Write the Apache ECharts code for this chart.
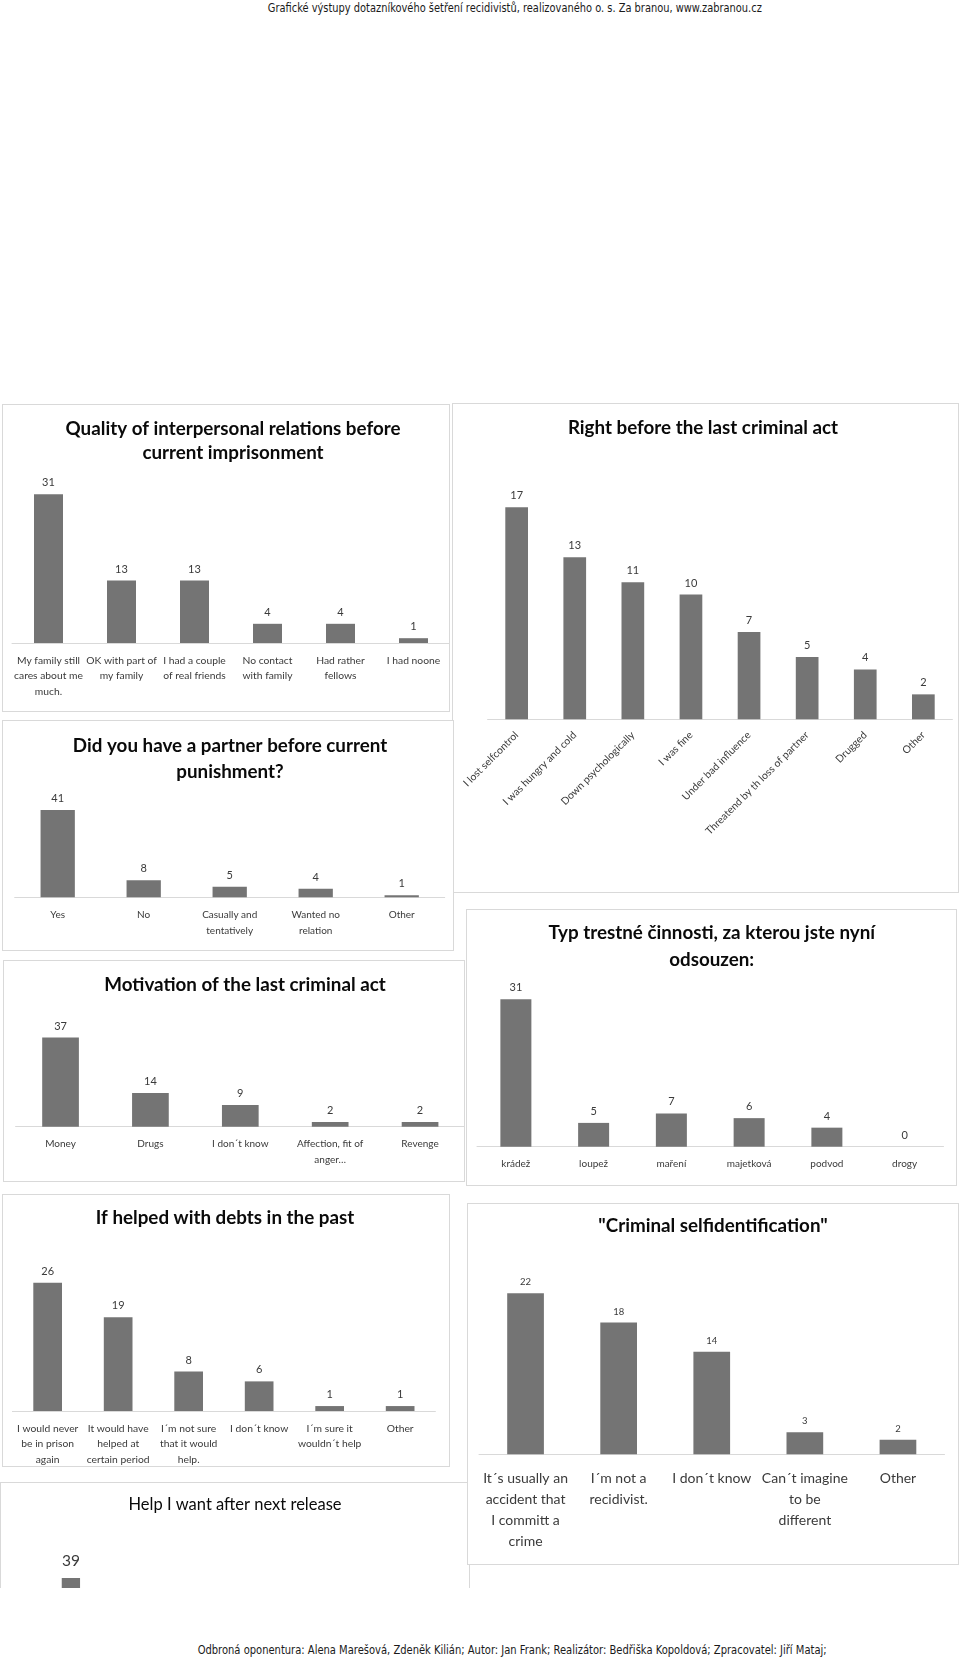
<!DOCTYPE html>
<html><head><meta charset="utf-8">
<script src="https://cdn.jsdelivr.net/npm/echarts@6/dist/echarts.min.js"></script>
<style>
body{margin:0;width:960px;height:1660px;position:relative;background:#fff;overflow:hidden}
.p{position:absolute;box-sizing:border-box;border:1px solid #d9d9d9;background:#fff;overflow:hidden}
.c{position:absolute;left:-1px;top:-1px}
.t{position:absolute;white-space:nowrap;font-family:"Liberation Sans Narrow","DejaVu Sans Condensed",Lato,sans-serif;font-size:12.5px;color:#1a1a1a;transform-origin:center center}
</style></head>
<body>
<div class="t" id="hdr">Grafické výstupy dotazníkového šetření recidivistů, realizovaného o. s. Za branou, www.zabranou.cz</div>
<div class="t" id="ftr">Odbroná oponentura: Alena Marešová, Zdeněk Kilián; Autor: Jan Frank; Realizátor: Bedřiška Kopoldová; Zpracovatel: Jiří Mataj;</div>
<script>
// ---- data ----
const relTitle = "Quality of interpersonal relations before\ncurrent imprisonment";
const relCategories = ["My family still\ncares about me\nmuch.", "OK with part of\nmy family", "I had a couple\nof real friends", "No contact\nwith family", "Had rather\nfellows", "I had noone"];
const relValues = [31, 13, 13, 4, 4, 1];

const beforeTitle = "Right before the last criminal act";
const beforeCategories = ["I lost selfcontrol", "I was hungry and cold", "Down psychologically", "I was fine", "Under bad influence", "Threatend by th loss of partner", "Drugged", "Other"];
const beforeValues = [17, 13, 11, 10, 7, 5, 4, 2];

const partnerTitle = "Did you have a partner before current\npunishment?";
const partnerCategories = ["Yes", "No", "Casually and\ntentatively", "Wanted no\nrelation", "Other"];
const partnerValues = [41, 8, 5, 4, 1];

const motivTitle = "Motivation of the last criminal act";
const motivCategories = ["Money", "Drugs", "I don´t know", "Affection, fit of\nanger…", "Revenge"];
const motivValues = [37, 14, 9, 2, 2];

const crimeTitle = "Typ trestné činnosti, za kterou jste nyní\nodsouzen:";
const crimeCategories = ["krádež", "loupež", "maření", "majetková", "podvod", "drogy"];
const crimeValues = [31, 5, 7, 6, 4, 0];

const debtTitle = "If helped with debts in the past";
const debtCategories = ["I would never\nbe in prison\nagain", "It would have\nhelped at\ncertain period", "I´m not sure\nthat it would\nhelp.", "I don´t know", "I´m sure it\nwouldn´t help", "Other"];
const debtValues = [26, 19, 8, 6, 1, 1];

const selfTitle = "\"Criminal selfidentification\"";
const selfCategories = ["It´s usually an\naccident that\nI committ a\ncrime", "I´m not a\nrecidivist.", "I don´t know", "Can´t imagine\nto be\ndifferent", "Other"];
const selfValues = [22, 18, 14, 3, 2];

const helpTitle = "Help I want after next release";
const helpCategories = [""];
const helpValues = [39];

// ---- rendering ----
const FONT = "Lato, 'Open Sans', sans-serif";
const BAR = "#747474";
const TXT = "#3a3a3a";

function panel(c) {
  const wrap = document.createElement('div');
  wrap.className = 'p';
  wrap.style.left = c.box[0] + 'px'; wrap.style.top = c.box[1] + 'px';
  wrap.style.width = c.box[2] + 'px'; wrap.style.height = c.box[3] + 'px';
  wrap.style.zIndex = c.z || 1;
  if (c.noBottom) wrap.style.borderBottom = 'none';
  const el = document.createElement('div');
  el.className = 'c';
  el.style.width = c.box[2] + 'px';
  el.style.height = (c.ch || c.box[3]) + 'px';
  wrap.appendChild(el);
  document.body.appendChild(wrap);
  const chart = echarts.init(el, null, {renderer: 'canvas'});
  chart.setOption({
    animation: false,
    graphic: [{
      type: 'text', x: c.tx, y: c.ty, silent: true,
      style: {text: c.title, fontFamily: FONT, fontSize: c.tfs || 18.8, fontWeight: c.tfw || 'bold',
        fill: '#0a0a0a', align: 'center', verticalAlign: 'middle', lineHeight: c.tlh || 24}
    }],
    grid: {left: c.grid[0], top: c.grid[1], width: c.grid[2], height: c.grid[3]},
    xAxis: {
      type: 'category', data: c.cats,
      axisLine: {lineStyle: {color: '#d9d9d9', width: 1}},
      axisTick: {show: false},
      axisLabel: {show: c.showLabels !== false, interval: 0, color: TXT, fontFamily: FONT,
        fontSize: c.lfs || 10.3, lineHeight: c.llh || 15, margin: c.lm || 9, rotate: c.rot || 0}
    },
    yAxis: {type: 'value', min: 0, max: c.max, show: false, splitLine: {show: false}},
    series: [{
      type: 'bar', data: c.vals, barWidth: c.bw, silent: true,
      itemStyle: {color: BAR},
      label: {show: true, position: 'top', distance: c.ld || 6, color: TXT, fontFamily: FONT, fontSize: c.vfs || 11}
    }]
  });
}

panel({box: [2, 404, 448, 308], title: relTitle, tx: 231, ty: 37, tlh: 24,
  grid: [10, 71, 443, 168], max: 35, bw: 29, cats: relCategories, vals: relValues, llh: 15.3, lm: 10});

panel({box: [452, 403, 507, 490], title: beforeTitle, tx: 251, ty: 25,
  grid: [35.6, 66.9, 464.8, 249.4], max: 20, bw: 22.7, cats: beforeCategories, vals: beforeValues, rot: 45, lm: 14, lfs: 10.4});

panel({box: [2, 720, 452, 231], z: 2, title: partnerTitle, tx: 228, ty: 39, tlh: 26,
  grid: [12.7, 70.8, 430, 106.5], max: 50, bw: 34.3, cats: partnerCategories, vals: partnerValues, llh: 16, lm: 9, lfs: 10});

panel({box: [3, 960, 462, 222], title: motivTitle, tx: 242, ty: 25,
  grid: [12.6, 58.2, 460.4, 108.5], max: 45, bw: 36.7, cats: motivCategories, vals: motivValues, llh: 16, lm: 9, lfs: 10});

panel({box: [466, 909, 491, 277], title: crimeTitle, tx: 245.7, ty: 37.5, tlh: 27,
  grid: [11, 71.1, 466.5, 166.6], max: 35, bw: 31, cats: crimeCategories, vals: crimeValues, llh: 16, lm: 9, lfs: 10});

panel({box: [2, 1194, 448, 273], title: debtTitle, tx: 223, ty: 24,
  grid: [10.4, 68.9, 423, 148.8], max: 30, bw: 28.7, cats: debtCategories, vals: debtValues, llh: 15.5, lm: 9.5, lfs: 10.3});

panel({box: [0, 1482, 470, 106], ch: 300, noBottom: true, title: helpTitle, tx: 235, ty: 23, tfs: 16.5, tfw: 'normal',
  grid: [35.9, 60, 70, 163.6], max: 50, bw: 18.3, cats: helpCategories, vals: helpValues, showLabels: false, vfs: 15.5, ld: 9});

panel({box: [467, 1203, 492, 362], z: 2, title: selfTitle, tx: 246, ty: 23,
  grid: [12, 68.3, 465.5, 183], max: 25, bw: 36.7, cats: selfCategories, vals: selfValues, lfs: 14, llh: 21, lm: 14, vfs: 9.5});

// header / footer: fit narrow text to measured widths
function fitText(id, cx, cy, w) {
  const e = document.getElementById(id);
  const r = e.getBoundingClientRect();
  e.style.left = (cx - r.width / 2) + 'px';
  e.style.top = (cy - r.height / 2) + 'px';
  e.style.transform = 'scaleX(' + (w / r.width) + ')';
}
fitText('hdr', 515, 7, 494);
fitText('ftr', 512, 1649, 629);
</script>
</body></html>
